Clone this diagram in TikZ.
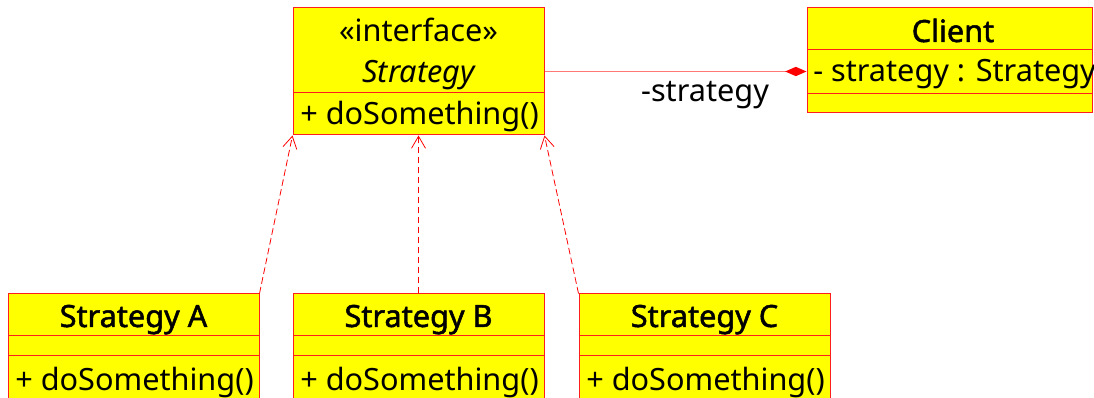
\documentclass[tikz,border=0pt]{standalone}
\usepackage{fontspec}
\setmainfont{Noto Sans}
\newfontfamily\titlefont[FakeBold=1.6]{Noto Sans}
\usetikzlibrary{arrows.meta,fit}
\definecolor{boxfill}{RGB}{255,255,0}
\definecolor{boxline}{RGB}{255,30,30}
\definecolor{assocline}{RGB}{255,120,120}
\begin{document}
\begin{tikzpicture}[x=0.75pt,y=-0.75pt,
  box/.style={draw=boxline, fill=boxfill, line width=0.75pt, inner sep=0pt},
  sep/.style={draw=boxline, line width=0.75pt},
  txt/.style={anchor=base, inner sep=0pt, font=\fontsize{23}{27}\selectfont},
  title/.style={txt, font=\fontsize{23}{27}\selectfont\titlefont},
  optxt/.style={txt, anchor=base west},
  realize/.style={draw=red, line width=0.6pt, dash pattern=on 5pt off 2.5pt,
    -{Straight Barb[length=9pt,width=10.5pt,line width=0.6pt]}},
  assoc/.style={draw=assocline, line width=1.2pt,
    -{Diamond[length=16pt,width=7pt,fill=red,color=red]}}
]
\clip (0,0) rectangle (1094,398);
\fill[white] (0,0) rectangle (1094,398);

% interface Strategy
\node[box, fit={(293,8) (544,135)}] (strat) {};
\draw[sep] (293,93) -- (544,93);
\node[txt] (stereo) at (418.5,42) {«interface»};
\node[txt, font=\fontsize{23}{27}\selectfont\itshape] (sname) at (418.5,83) {Strategy};
\node[optxt] (sop) at (300,125) {+ doSomething()};

% Client
\node[box, fit={(807,8) (1092,113)}] (client) {};
\draw[sep] (807,50) -- (1092,50);
\draw[sep] (807,94) -- (1092,94);
\node[title] (cname) at (953,42) {Client};
\node[optxt] (cattr) at (813,82) {- strategy : Strategy};

% concrete strategies
\node[box, fit={(8,294) (259,405)}] (a) {};
\draw[sep] (8,336) -- (259,336);
\draw[sep] (8,356) -- (259,356);
\node[title] (aname) at (133.5,327) {Strategy A};
\node[optxt] (aop) at (15,390) {+ doSomething()};

\node[box, fit={(293,294) (544,405)}] (b) {};
\draw[sep] (293,336) -- (544,336);
\draw[sep] (293,356) -- (544,356);
\node[title] (bname) at (418.5,327) {Strategy B};
\node[optxt] (bop) at (300,390) {+ doSomething()};

\node[box, fit={(579,294) (830,405)}] (c) {};
\draw[sep] (579,336) -- (830,336);
\draw[sep] (579,356) -- (830,356);
\node[title] (cname2) at (704.5,327) {Strategy C};
\node[optxt] (cop) at (586,390) {+ doSomething()};

% realizations
\draw[realize] (a.north east) -- (strat.south west);
\draw[realize] (b.north) -- (strat.south);
\draw[realize] (c.north west) -- (strat.south east);

% composition
\draw[assoc] (strat.east) -- (strat.east -| client.west);
\node[txt] (role) at (705,102) {-strategy};
\end{tikzpicture}
\end{document}
